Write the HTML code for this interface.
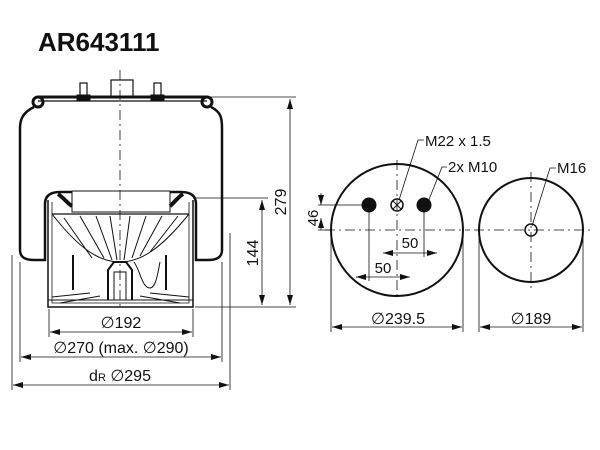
<!DOCTYPE html>
<html><head><style>
body{margin:0;background:#fff;width:600px;height:445px;overflow:hidden}
svg text{font-family:"Liberation Sans",sans-serif;fill:#111}
</style></head><body>
<svg width="600" height="445" viewBox="0 0 600 445" xmlns="http://www.w3.org/2000/svg">
<defs>
<marker id="a" viewBox="0 0 10 6" refX="10" refY="3" markerWidth="10" markerHeight="6" orient="auto-start-reverse" markerUnits="userSpaceOnUse"><path d="M0,0L10,3L0,6z" fill="#111"/></marker>
</defs>
<text x="38" y="51" font-size="26" font-weight="bold" style="font-weight:bold">AR643111</text>

<g fill="none" stroke="#111">
<path d="M38,97 L207,97" stroke-width="3"/>
<path d="M38,101 L207,101" stroke-width="1.2"/>
<circle cx="38" cy="102" r="5" stroke-width="3"/>
<circle cx="207" cy="102" r="5" stroke-width="3"/>
<rect x="111" y="80" width="22" height="17" stroke-width="1.2"/>
<rect x="80" y="83" width="7" height="14" stroke-width="1.2"/>
<rect x="154" y="83" width="7" height="14" stroke-width="1.2"/>
<rect x="77" y="95" width="13" height="5" fill="#111"/>
<rect x="151" y="95" width="13" height="5" fill="#111"/>
<path d="M34,107 C24,112 20,118 20,128 L20,250 C20,258 26,260 34,260 L45,260 L45,204 C45,196 50,192 60,192 L72,192" stroke-width="2.5"/>
<path d="M211,107 C221,112 222,118 222,128 L222,250 C222,258 216,260 208,260 L196,260 L196,204 C196,196 191,192 181,192 L170,192" stroke-width="2.5"/>
<path d="M58,194 C64,198 68,204 72,206 M183,194 C177,198 173,204 170,206" stroke-width="4"/>
<path d="M48,200 L48,307 L193,307 L193,200" stroke-width="1.5"/>
<path d="M52,202 L52,303 L189,303 L189,202" stroke-width="0.8"/>
<path d="M52,214 L189,214" stroke-width="1.2"/>
<path d="M72,191 L72,212 L170,212 L170,191 Z" stroke-width="1"/>
<path d="M52,214 C80,250 100,262 120,262 C140,262 160,250 189,214" stroke-width="1"/>
<path d="M64,218 L92,258 M80,216 L104,258 M96,216 L112,260 M110,216 L117,260 M130,216 L124,260 M146,216 L132,258 M162,216 L140,256 M178,216 L150,252" stroke-width="1"/>
<path d="M108,300 L108,270 L114,262 L126,262 L132,270 L132,300" stroke-width="2"/>
<path d="M114,300 L114,272 L126,272 L126,300" stroke-width="1"/>
<path d="M134,262 C140,270 142,288 150,288 C156,288 158,272 160,262" stroke-width="1"/>
<path d="M73,255 L73,290 M166,255 L166,290" stroke-width="2"/>
<path d="M52,297 L90,293 M189,297 L150,293 M60,303 L100,296 M180,303 L140,296" stroke-width="1"/>
<path d="M48,300 L193,300" stroke-width="1"/>
</g>
<g stroke="#111" stroke-width="0.8" stroke-dasharray="10,4,2,4" fill="none">
<path d="M120,70 L120,310"/>
<path d="M397,160 L397,300 M325,230 L470,230"/>
<path d="M531,172 L531,290 M474,230 L590,230"/>
</g>
<g stroke="#111" stroke-width="0.8" fill="none">
<path d="M210,97 L296,97 M195,198 L268,198 M195,307 L296,307"/>
<path d="M290,99 L290,305" marker-start="url(#a)" marker-end="url(#a)"/>
<path d="M262,200 L262,305" marker-start="url(#a)" marker-end="url(#a)"/>
<path d="M12,255 L12,390 M20,262 L20,362 M230,233 L230,390 M222,262 L222,362 M49,309 L49,337 M193,309 L193,337"/>
<path d="M50,332 L192,332" marker-start="url(#a)" marker-end="url(#a)"/>
<path d="M21,357 L221,357" marker-start="url(#a)" marker-end="url(#a)"/>
<path d="M13,385 L229,385" marker-start="url(#a)" marker-end="url(#a)"/>
</g>
<text transform="translate(286,202) rotate(-90)" font-size="16" text-anchor="middle">279</text>
<text transform="translate(258,253) rotate(-90)" font-size="16" text-anchor="middle">144</text>
<text x="121" y="328" font-size="16" text-anchor="middle">∅192</text>
<text x="121" y="353" font-size="16" text-anchor="middle">∅270 (max. ∅290)</text>
<text x="120" y="381" font-size="16" text-anchor="middle">d<tspan font-size="11">R</tspan>  ∅295</text>

<g stroke="#111" fill="none">
<circle cx="397" cy="230" r="66" stroke-width="2"/>
<circle cx="531" cy="230" r="52" stroke-width="2"/>
<circle cx="369" cy="205" r="7" fill="#111"/>
<circle cx="424" cy="205" r="7" fill="#111"/>
<circle cx="397" cy="205" r="6" stroke-width="1.5"/>
<path d="M393,201 L401,209 M401,201 L393,209" stroke-width="1"/>
<circle cx="531" cy="230" r="6" stroke-width="1.5"/>
<g stroke-width="0.8">
<path d="M318,205 L369,205 M318,230 L331,230"/>
<path d="M321,218 L321,230" marker-start="url(#a)"/>
<path d="M321,193 L321,205" marker-end="url(#a)"/>
<path d="M424,212 L424,257 M369,212 L369,281"/>
<path d="M383,253 L437,253" marker-start="url(#a)" marker-end="url(#a)"/>
<path d="M356,277 L410,277" marker-start="url(#a)" marker-end="url(#a)"/>
<path d="M331,232 L331,332 M463,232 L463,332 M479,232 L479,332 M583,232 L583,332"/>
<path d="M332,327 L462,327" marker-start="url(#a)" marker-end="url(#a)"/>
<path d="M480,327 L582,327" marker-start="url(#a)" marker-end="url(#a)"/>
<path d="M399,200 L418,140 L424,140 M428,202 L442,167 L447,167 M532,226 L550,168 L556,168"/>
</g>
</g>
<text transform="translate(318,218) rotate(-90)" font-size="15" text-anchor="middle">46</text>
<text x="410" y="248" font-size="15" text-anchor="middle">50</text>
<text x="383" y="273" font-size="15" text-anchor="middle">50</text>
<text x="425" y="146" font-size="15">M22 x 1.5</text>
<text x="448" y="172" font-size="15">2x M10</text>
<text x="557" y="173" font-size="15">M16</text>
<text x="398" y="324" font-size="16" text-anchor="middle">∅239.5</text>
<text x="531" y="324" font-size="16" text-anchor="middle">∅189</text>
</svg>
</body></html>
